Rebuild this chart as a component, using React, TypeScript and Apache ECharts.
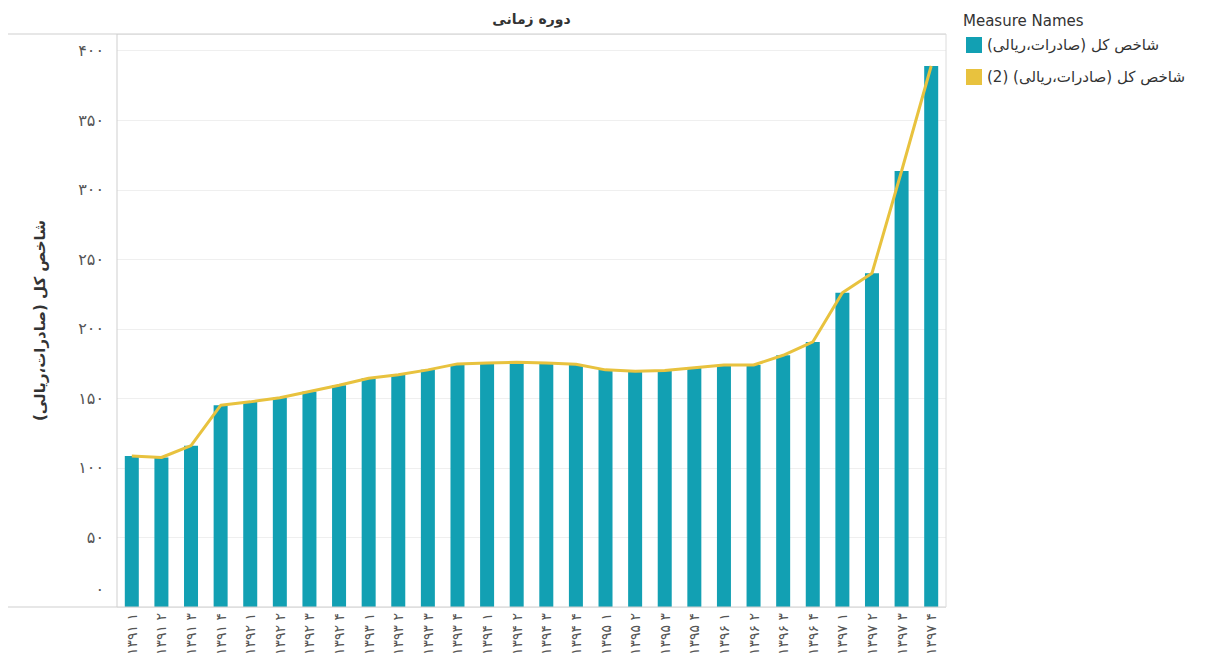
import React, { useEffect, useRef } from "react";
import * as echarts from "echarts";

const years = ["۱۳۹۱", "۱۳۹۲", "۱۳۹۳", "۱۳۹۴", "۱۳۹۵", "۱۳۹۶", "۱۳۹۷"];
const quarters = ["۱", "۲", "۳", "۴"];
const categories: string[] = [];
years.forEach((y) => quarters.forEach((q) => categories.push(y + " " + q)));

const barValues = [
  108.6, 107.5, 116, 145, 147.5, 150.5, 155, 159.5, 164.5, 167, 170.5, 174.8,
  175.5, 176, 175.5, 174.5, 170.5, 169.5, 170, 172, 174, 174, 181, 190.6,
  226, 240, 313.5, 389,
];
const lineValues = barValues.slice();

const yTicks = [0, 50, 100, 150, 200, 250, 300, 350, 400];
const seriesNames = ["شاخص کل (صادرات،ریالی)", "شاخص کل (صادرات،ریالی) (2)"];
const titleText = "دوره زمانی";
const yAxisTitle = "شاخص کل (صادرات،ریالی)";
const legendTitle = "Measure Names";

const TEAL = "#12a0b3";
const YELLOW = "#e8c23e";
const RLE = "\u202B";
const PDF = "\u202C";
const fa = (n: number) =>
  String(n).replace(/[0-9]/g, (d) => String.fromCharCode(0x06f0 + Number(d)));

export default function App() {
  const ref = useRef<HTMLDivElement>(null);
  useEffect(() => {
    if (!ref.current) return;
    const chart = echarts.init(ref.current, undefined, { renderer: "svg" });
    const L = 117, R = 946, T = 34, B = 607;
    chart.setOption({
      animation: false,
      backgroundColor: "#ffffff",
      textStyle: { fontFamily: "DejaVu Sans" },
      grid: { left: L, right: 1223 - R, top: T, bottom: 670 - B },
      xAxis: {
        type: "category",
        data: categories,
        boundaryGap: true,
        axisLine: { show: false },
        axisTick: { show: false },
        axisLabel: {
          rotate: 90,
          fontSize: 14,
          color: "#555",
          margin: 6,
          interval: 0,
          fontFamily: "DejaVu Sans",
        },
      },
      yAxis: {
        type: "value",
        min: 0,
        max: 412,
        interval: 50,
        axisLine: { show: false },
        axisTick: { show: false },
        splitLine: { lineStyle: { color: "#efefef", width: 1 } },
        axisLabel: {
          fontSize: 16,
          color: "#555",
          margin: 13,
          fontFamily: "DejaVu Sans",
          formatter: (v: number) =>
            v === 0 ? "{z|" + fa(v) + "}" : yTicks.includes(v) ? fa(v) : "",
          rich: {
            z: { fontSize: 16, color: "#555", fontFamily: "DejaVu Sans", padding: [0, 0, 36, 0] },
          },
        },
        name: RLE + yAxisTitle + PDF,
        nameLocation: "middle",
        nameGap: 70,
        nameTextStyle: {
          fontSize: 15,
          fontWeight: "bold",
          color: "#333",
          fontFamily: "DejaVu Sans",
        },
      },
      legend: {
        orient: "vertical",
        left: 966,
        top: 37,
        padding: 0,
        itemWidth: 16,
        itemHeight: 16,
        itemGap: 16,
        icon: "rect",
        textStyle: { fontSize: 15, color: "#333", fontFamily: "DejaVu Sans" },
        formatter: (name: string) => RLE + name + PDF,
        data: seriesNames,
      },
      graphic: [
        { type: "line", shape: { x1: 8, y1: T, x2: R, y2: T }, style: { stroke: "#cfcfcf", lineWidth: 1 }, z: 10 },
        { type: "line", shape: { x1: 8, y1: B, x2: R, y2: B }, style: { stroke: "#cfcfcf", lineWidth: 1 }, z: 10 },
        { type: "line", shape: { x1: L, y1: T, x2: L, y2: B }, style: { stroke: "#cfcfcf", lineWidth: 1 }, z: 10 },
        { type: "line", shape: { x1: R, y1: T, x2: R, y2: B }, style: { stroke: "#dcdcdc", lineWidth: 1 }, z: 10 },
        {
          type: "text",
          x: (L + R) / 2,
          y: 19,
          style: {
            text: titleText,
            align: "center",
            verticalAlign: "middle",
            fontSize: 14,
            fontWeight: "bold",
            fill: "#333",
            fontFamily: "DejaVu Sans",
          },
        },
        {
          type: "text",
          x: 963,
          y: 21,
          style: {
            text: legendTitle,
            align: "left",
            verticalAlign: "middle",
            fontSize: 15,
            fill: "#333",
            fontFamily: "DejaVu Sans",
          },
        },
      ],
      series: [
        {
          name: seriesNames[0],
          type: "bar",
          data: barValues,
          barWidth: 14,
          itemStyle: { color: TEAL },
        },
        {
          name: seriesNames[1],
          type: "line",
          data: lineValues,
          symbol: "none",
          lineStyle: { color: YELLOW, width: 3 },
          itemStyle: { color: YELLOW },
          z: 5,
        },
      ],
    });
    return () => chart.dispose();
  }, []);
  return <div ref={ref} style={{ width: 1223, height: 670, position: "absolute", left: 0, top: 0 }} />;
}
